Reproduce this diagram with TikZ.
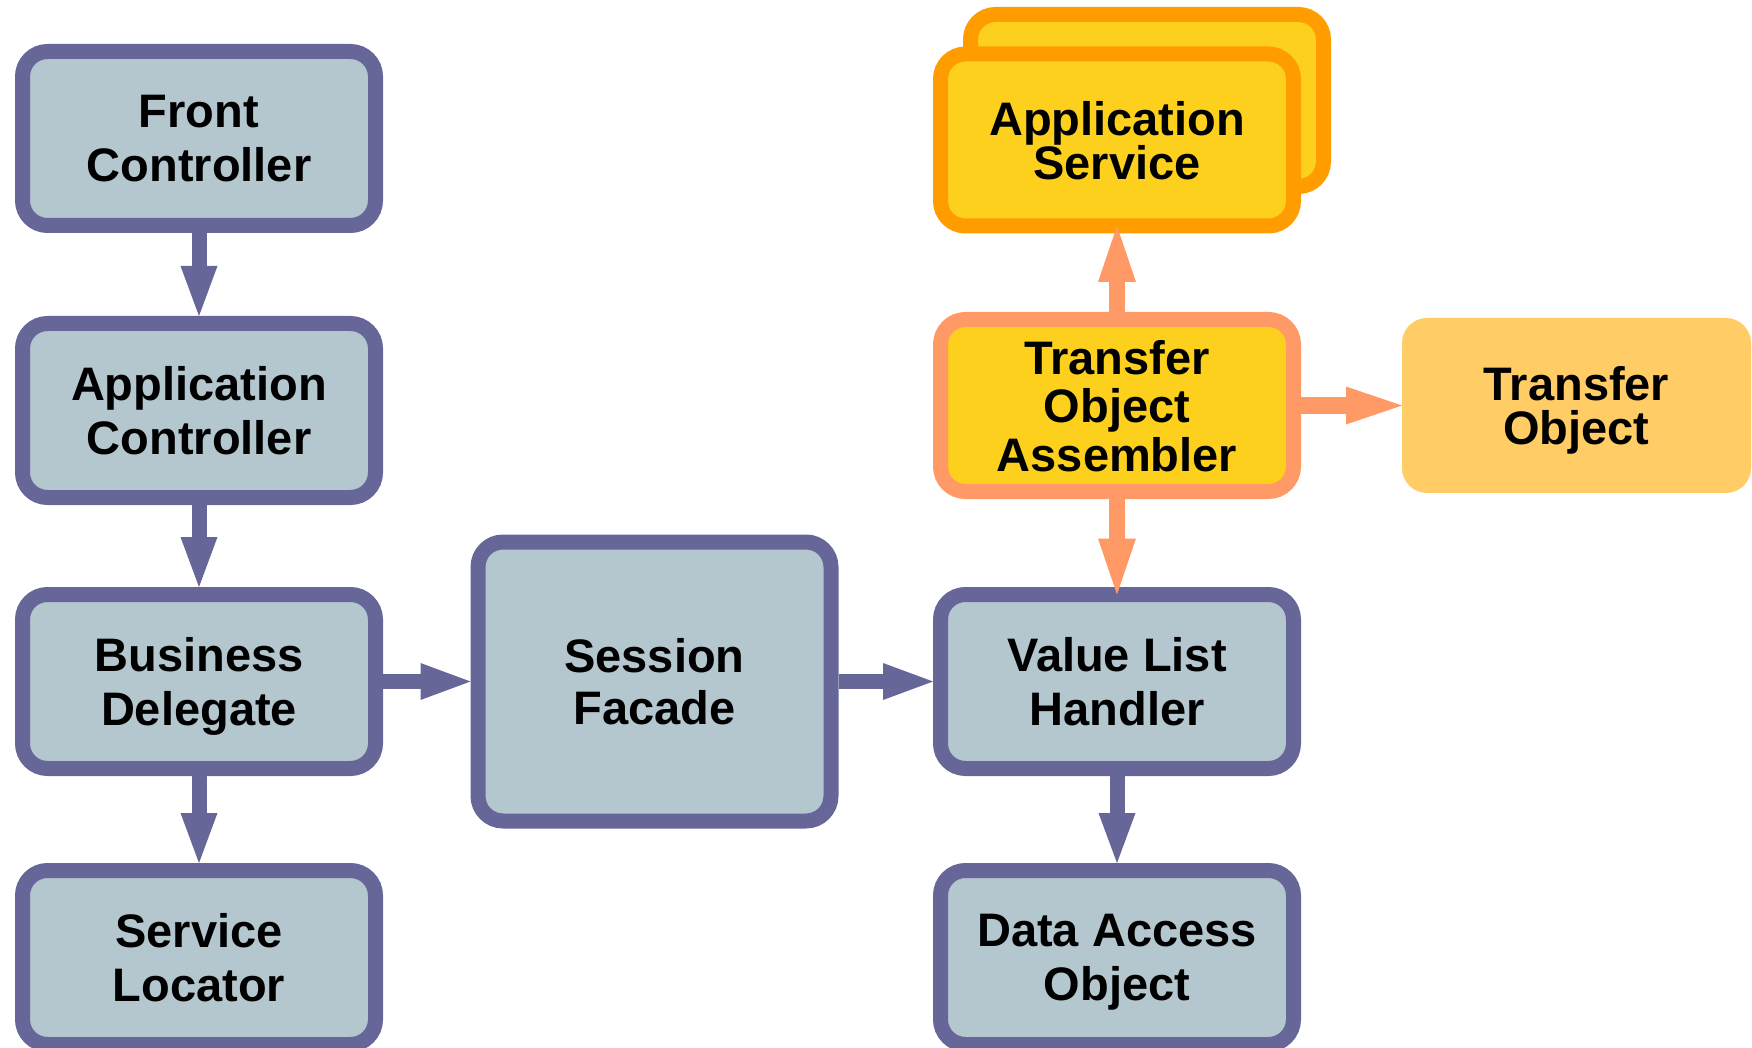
\documentclass[tikz,border=0pt]{standalone}
\usepackage{fontspec}
\setmainfont{Liberation Sans}
\usetikzlibrary{arrows.meta}

\definecolor{slateedge}{RGB}{102,102,153}
\definecolor{slatefill}{RGB}{180,198,206}
\definecolor{sunyellow}{RGB}{253,208,30}
\definecolor{amberedge}{RGB}{255,157,0}
\definecolor{salmon}{RGB}{255,153,102}
\definecolor{paleorange}{RGB}{255,204,102}

% bold label font; the argument is the line spacing
\newcommand{\patternfont}[1]{\fontsize{23.5}{#1}\selectfont\bfseries}

\begin{document}
\begin{tikzpicture}[x=0.5pt,y=-0.5pt,
  box/.style={rectangle, rounded corners=12.5pt, line width=7.5pt,
    minimum width=176.5pt, minimum height=87pt, inner sep=0pt,
    align=center, text depth=0pt, font=\patternfont{27pt}},
  bluebox/.style={box, draw=slateedge, fill=slatefill},
  svcbox/.style={box, draw=amberedge, fill=sunyellow, minimum height=86pt,
    font=\patternfont{22pt}},
  assemblerbox/.style={box, draw=salmon, fill=sunyellow, minimum height=86pt,
    font=\patternfont{24.25pt}},
  tobox/.style={box, draw=none, fill=paleorange, outer sep=0pt,
    minimum width=174.5pt, minimum height=87.5pt, font=\patternfont{22pt}},
  bluearrow/.style={draw=slateedge, line width=7.5pt,
    -{Triangle[length=25pt,width=18.5pt,line width=0pt]}},
  salmonarrow/.style={draw=salmon, line width=8pt,
    -{Triangle[length=28pt,width=19pt,line width=0pt]}, shorten >=-3.75pt}
]
\path[use as bounding box] (0,0) rectangle (1752,1048);
\clip (0,0) rectangle (1752,1048);

% left column
\node[bluebox] (fc) at (199,138.5) {Front\\Controller};
\node[bluebox] (ac) at (199,410.5) {Application\\Controller};
\node[bluebox] (bd) at (199,681.5) {Business\\Delegate};
\node[bluebox] (sl) at (199,957.5) {Service\\Locator};

% middle
\node[bluebox, minimum height=139.5pt, font=\patternfont{26pt}] (sf)
  at (654.5,681.5) {Session\\Facade};

% right column
\node[bluebox] (vlh) at (1117,681.5) {Value List\\Handler};
\node[bluebox] (dao) at (1117,957.5) {Data Access\\Object};
\node[svcbox] (asback) at (1147,100.5) {};
\node[svcbox] (asvc) at (1117,140) {Application\\Service};
\node[assemblerbox] (toa) at (1117,405.5) {Transfer\\Object\\Assembler};
\node[tobox] (to) at (1576.5,405.5) {Transfer\\Object};

% connectors
\draw[bluearrow] (fc.south) -- (ac.north);
\draw[bluearrow] (ac.south) -- (bd.north);
\draw[bluearrow] (bd.south) -- (sl.north);
\draw[bluearrow] (bd.east) -- (sf.west);
\draw[bluearrow] (sf.east) -- (vlh.west);
\draw[bluearrow] (vlh.south) -- (dao.north);
\draw[salmonarrow] (toa.north) -- (asvc.south);
\draw[salmonarrow] (toa.south) -- (vlh.north);
\draw[salmonarrow, shorten >=0pt] (toa.east) -- (to.west);
\end{tikzpicture}
\end{document}
